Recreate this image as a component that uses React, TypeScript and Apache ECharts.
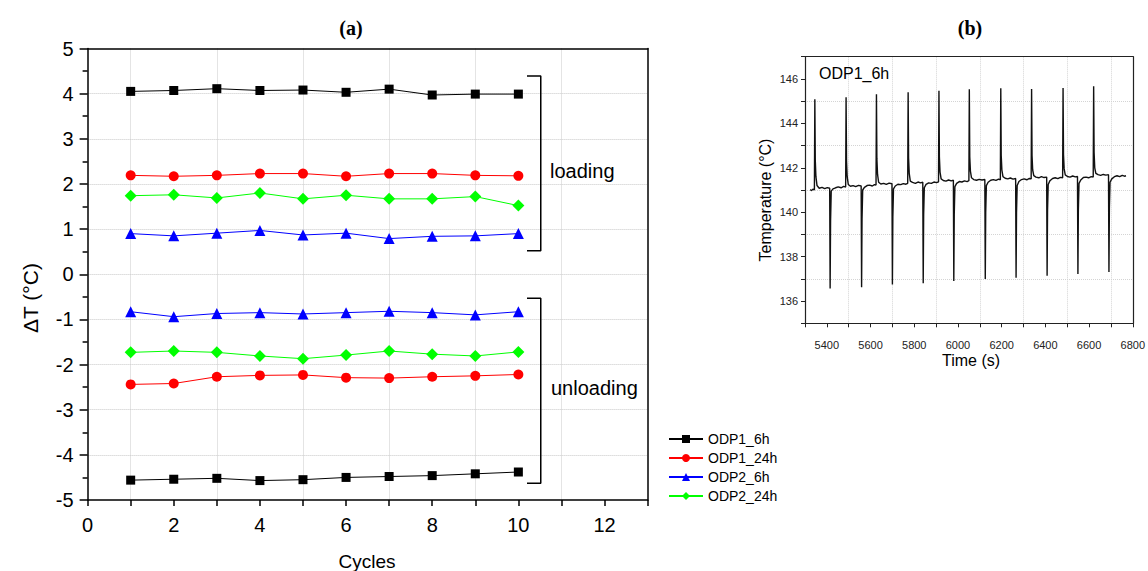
import React, { useEffect, useRef } from 'react';
import * as echarts from 'echarts';

// ---------- Panel (a) data ----------
const cycles = [1, 2, 3, 4, 5, 6, 7, 8, 9, 10];
const seriesNames = ['ODP1_6h', 'ODP1_24h', 'ODP2_6h', 'ODP2_24h'];

const odp1_6h_loading = [4.05, 4.07, 4.11, 4.07, 4.08, 4.03, 4.1, 3.97, 3.99, 3.99];
const odp1_24h_loading = [2.19, 2.17, 2.19, 2.23, 2.23, 2.17, 2.23, 2.23, 2.19, 2.18];
const odp2_6h_loading = [0.9, 0.85, 0.91, 0.97, 0.87, 0.91, 0.79, 0.84, 0.85, 0.9];
const odp2_24h_loading = [1.74, 1.76, 1.69, 1.8, 1.67, 1.75, 1.67, 1.67, 1.72, 1.52];

const odp1_6h_unloading = [-4.56, -4.54, -4.52, -4.57, -4.55, -4.5, -4.48, -4.46, -4.42, -4.38];
const odp1_24h_unloading = [-2.44, -2.42, -2.27, -2.24, -2.23, -2.29, -2.3, -2.27, -2.25, -2.22];
const odp2_6h_unloading = [-0.83, -0.94, -0.87, -0.85, -0.88, -0.85, -0.82, -0.85, -0.9, -0.83];
const odp2_24h_unloading = [-1.73, -1.7, -1.73, -1.81, -1.87, -1.79, -1.7, -1.77, -1.81, -1.72];

const loadingBracket = [[10.2, 4.39], [10.52, 4.39], [10.52, 0.52], [10.2, 0.52]];
const unloadingBracket = [[10.2, -0.53], [10.52, -0.53], [10.52, -4.63], [10.2, -4.63]];

// ---------- Panel (b) data: time (s), temperature (°C) ----------
const traceODP1_6h = [
  [5324, 141.02], [5330, 140.97], [5336, 141.04], [5343, 141.0],
  [5345, 145.08], [5347, 142.35], [5350, 141.6], [5355, 141.2], [5365, 141.08], [5378, 141.12], [5390, 141.06], [5402, 141.11], [5413, 141.08],
  [5415, 136.57], [5417, 139.6], [5420, 140.95], [5428, 141.05], [5440, 141.1], [5452, 141.14], [5465, 141.1], [5477, 141.16], [5486, 141.13],
  [5488, 145.17], [5490, 142.3], [5493, 141.6], [5498, 141.25], [5508, 141.17], [5520, 141.2], [5532, 141.15], [5545, 141.21], [5557, 141.18],
  [5559, 136.62], [5561, 139.7], [5564, 141.0], [5572, 141.12], [5584, 141.2], [5596, 141.22], [5608, 141.18], [5618, 141.24], [5625, 141.22],
  [5627, 145.31], [5629, 142.4], [5632, 141.7], [5637, 141.35], [5647, 141.27], [5660, 141.3], [5672, 141.25], [5685, 141.31], [5698, 141.28],
  [5700, 136.75], [5702, 139.8], [5705, 141.05], [5713, 141.18], [5725, 141.26], [5738, 141.24], [5750, 141.29], [5762, 141.26], [5770, 141.3],
  [5772, 145.4], [5774, 142.45], [5777, 141.75], [5782, 141.4], [5792, 141.34], [5805, 141.3], [5817, 141.36], [5829, 141.32], [5839, 141.35],
  [5841, 136.8], [5843, 139.9], [5846, 141.1], [5854, 141.25], [5866, 141.32], [5878, 141.3], [5890, 141.36], [5902, 141.33], [5911, 141.37],
  [5913, 145.47], [5915, 142.5], [5918, 141.8], [5923, 141.5], [5933, 141.43], [5945, 141.4], [5957, 141.45], [5969, 141.41], [5979, 141.44],
  [5981, 136.9], [5983, 139.9], [5986, 141.15], [5994, 141.3], [6006, 141.38], [6018, 141.36], [6030, 141.41], [6042, 141.38], [6050, 141.42],
  [6052, 145.53], [6054, 142.5], [6057, 141.85], [6062, 141.55], [6072, 141.47], [6085, 141.44], [6097, 141.48], [6110, 141.45], [6123, 141.47],
  [6125, 136.99], [6127, 140.0], [6130, 141.2], [6138, 141.35], [6150, 141.44], [6162, 141.47], [6174, 141.43], [6186, 141.49], [6194, 141.46],
  [6196, 145.58], [6198, 142.55], [6201, 141.9], [6206, 141.6], [6216, 141.53], [6228, 141.5], [6240, 141.54], [6252, 141.49], [6264, 141.52],
  [6266, 137.05], [6268, 140.0], [6271, 141.2], [6279, 141.38], [6291, 141.47], [6303, 141.5], [6315, 141.46], [6327, 141.52], [6335, 141.5],
  [6337, 145.55], [6339, 142.55], [6342, 141.9], [6347, 141.65], [6357, 141.58], [6370, 141.55], [6382, 141.6], [6394, 141.56], [6406, 141.58],
  [6408, 137.14], [6410, 140.1], [6413, 141.25], [6421, 141.42], [6433, 141.52], [6445, 141.55], [6457, 141.51], [6469, 141.57], [6479, 141.55],
  [6481, 145.59], [6483, 142.6], [6486, 141.95], [6491, 141.68], [6501, 141.61], [6513, 141.58], [6525, 141.63], [6537, 141.59], [6547, 141.61],
  [6549, 137.22], [6551, 140.1], [6554, 141.3], [6562, 141.45], [6574, 141.56], [6586, 141.58], [6598, 141.55], [6610, 141.6], [6619, 141.58],
  [6621, 145.67], [6623, 142.7], [6626, 142.0], [6631, 141.75], [6641, 141.69], [6653, 141.66], [6665, 141.7], [6677, 141.67], [6689, 141.69],
  [6691, 137.31], [6693, 140.2], [6696, 141.35], [6704, 141.5], [6716, 141.6], [6728, 141.64], [6740, 141.6], [6752, 141.66], [6762, 141.62], [6769, 141.64],
];

const SANS = "'Liberation Sans', Arial, Helvetica, sans-serif";
const SERIF = "'Liberation Serif', 'Times New Roman', serif";

export default function App() {
  const ref = useRef<HTMLDivElement>(null);

  useEffect(() => {
    const chart = echarts.init(ref.current!, null, { renderer: 'svg' });
    const pair = (ys: number[]) => cycles.map((c, i) => [c, ys[i]]);
    const mk = (name: string, color: string, symbol: string, size: number, ys: number[]) => ({
      type: 'line',
      name,
      xAxisIndex: 0,
      yAxisIndex: 0,
      data: pair(ys),
      symbol,
      symbolSize: size,
      showAllSymbol: true,
      itemStyle: { color },
      lineStyle: { color, width: 1 },
      z: 3,
    });
    const bracket = (data: number[][]) => ({
      type: 'line',
      name: 'bracket',
      xAxisIndex: 0,
      yAxisIndex: 0,
      data,
      symbol: 'none',
      silent: true,
      lineStyle: { color: '#000', width: 1.5 },
      z: 2,
    });

    const text = (t: string, x: number, y: number, size: number, opts: any = {}) => ({
      type: 'text',
      x,
      y,
      rotation: opts.rotation || 0,
      z: 10,
      style: {
        text: t,
        fill: '#000',
        fontSize: size,
        fontFamily: opts.family || SANS,
        fontWeight: opts.weight || 'normal',
        textAlign: opts.align || 'center',
        textVerticalAlign: 'middle',
        align: opts.align || 'center',
        verticalAlign: 'middle',
      },
    });

    // frame axes (top / right edges of each panel)
    const frameX = (gridIndex: number, min: number, max: number, color: string, width: number) => ({
      type: 'value', gridIndex, position: 'top', min, max,
      axisLine: { show: true, onZero: false, lineStyle: { color, width } },
      axisTick: { show: false }, axisLabel: { show: false }, splitLine: { show: false },
    });
    const frameY = (gridIndex: number, min: number, max: number, color: string, width: number) => ({
      type: 'value', gridIndex, position: 'right', min, max,
      axisLine: { show: true, onZero: false, lineStyle: { color, width } },
      axisTick: { show: false }, axisLabel: { show: false }, splitLine: { show: false },
    });

    chart.setOption({
      animation: false,
      backgroundColor: '#fff',
      textStyle: { fontFamily: SANS },
      grid: [
        { left: 87.6, top: 48.5, width: 560, height: 451.5 },
        { left: 805, top: 56.7, width: 330, height: 266.6 },
      ],
      xAxis: [
        {
          type: 'value', gridIndex: 0, position: 'bottom', min: 0, max: 13, interval: 1,
          axisLine: { show: true, onZero: false, lineStyle: { color: '#000', width: 1.5 } },
          axisTick: { show: true, length: 6, lineStyle: { color: '#000', width: 1.5 } },
          axisLabel: { fontSize: 20, color: '#000', fontFamily: SANS, margin: 15, formatter: (v: number) => (v % 2 === 0 ? String(v) : '') },
          splitLine: { show: true, showMinLine: false, showMaxLine: false, lineStyle: { type: 'dotted', color: ['#c8c8c8', 'rgba(0,0,0,0)'], width: 1 } },
        },
        {
          type: 'value', gridIndex: 1, position: 'bottom', min: 5300, max: 6800, interval: 100,
          axisLine: { show: true, onZero: false, lineStyle: { color: '#222', width: 1.2 } },
          axisTick: { show: true, length: 4, lineStyle: { color: '#222' } },
          axisLabel: { fontSize: 11, color: '#222', fontFamily: SANS, margin: 16, formatter: (v: number) => (v % 200 === 0 ? String(v) : '') },
          splitLine: { show: true, showMinLine: false, showMaxLine: false, lineStyle: { type: 'dotted', color: ['rgba(0,0,0,0)', '#d4d4d4'], width: 1 } },
        },
        frameX(0, 0, 13, '#000', 1.5),
        frameX(1, 5300, 6800, '#222', 1.2),
      ],
      yAxis: [
        {
          type: 'value', gridIndex: 0, position: 'left', min: -5, max: 5, interval: 1,
          axisLine: { show: true, onZero: false, lineStyle: { color: '#000', width: 1.5 } },
          axisTick: { show: true, length: 8, lineStyle: { color: '#000', width: 1.5 } },
          minorTick: { show: true, splitNumber: 2, length: 5, lineStyle: { color: '#000', width: 1.5 } },
          axisLabel: { fontSize: 20, color: '#000', fontFamily: SANS, margin: 14 },
          splitLine: { show: true, showMinLine: false, showMaxLine: false, lineStyle: { type: 'dotted', color: '#c8c8c8', width: 1 } },
        },
        {
          type: 'value', gridIndex: 1, position: 'left', min: 135, max: 147, interval: 1,
          axisLine: { show: true, onZero: false, lineStyle: { color: '#222', width: 1.2 } },
          axisTick: { show: true, length: 4, lineStyle: { color: '#222' } },
          axisLabel: { fontSize: 11, color: '#222', fontFamily: SANS, margin: 7, formatter: (v: number) => (v % 2 === 0 ? String(v) : '') },
          splitLine: { show: true, showMinLine: false, showMaxLine: false, lineStyle: { type: 'dotted', color: ['rgba(0,0,0,0)', '#d4d4d4'], width: 1 } },
        },
        frameY(0, -5, 5, '#000', 1.5),
        frameY(1, 135, 147, '#222', 1.2),
      ],
      legend: {
        data: seriesNames,
        orient: 'vertical',
        left: 663,
        top: 427,
        itemWidth: 34,
        itemHeight: 10,
        itemGap: 5,
        textStyle: { fontSize: 14, color: '#000', fontFamily: SANS },
      },
      series: [
        mk('ODP1_6h', '#000000', 'rect', 9, odp1_6h_loading),
        mk('ODP1_24h', '#ff0000', 'circle', 10, odp1_24h_loading),
        mk('ODP2_6h', '#0000ff', 'triangle', 11, odp2_6h_loading),
        mk('ODP2_24h', '#00ff00', 'diamond', 12, odp2_24h_loading),
        mk('ODP1_6h', '#000000', 'rect', 9, odp1_6h_unloading),
        mk('ODP1_24h', '#ff0000', 'circle', 10, odp1_24h_unloading),
        mk('ODP2_6h', '#0000ff', 'triangle', 11, odp2_6h_unloading),
        mk('ODP2_24h', '#00ff00', 'diamond', 12, odp2_24h_unloading),
        bracket(loadingBracket),
        bracket(unloadingBracket),
        {
          type: 'line',
          name: 'trace',
          xAxisIndex: 1,
          yAxisIndex: 1,
          data: traceODP1_6h,
          showSymbol: false,
          symbol: 'none',
          lineStyle: { color: '#111', width: 1.4 },
          silent: true,
        },
      ],
      graphic: [
        text('(a)', 351, 28, 20, { family: SERIF, weight: 'bold' }),
        text('(b)', 970, 28, 20, { family: SERIF, weight: 'bold' }),
        text('ΔT (°C)', 30, 298, 21, { rotation: Math.PI / 2 }),
        text('Cycles', 367, 561, 19),
        text('loading', 550, 171, 20, { align: 'left' }),
        text('unloading', 551, 388, 20, { align: 'left' }),
        text('Temperature (°C)', 765, 200, 16, { rotation: Math.PI / 2 }),
        text('Time (s)', 971, 360, 16),
        text('ODP1_6h', 819, 73, 16, { align: 'left' }),
      ],
    });

    return () => chart.dispose();
  }, []);

  return <div ref={ref} style={{ position: 'absolute', left: 0, top: 0, width: 1148, height: 571 }} />;
}
